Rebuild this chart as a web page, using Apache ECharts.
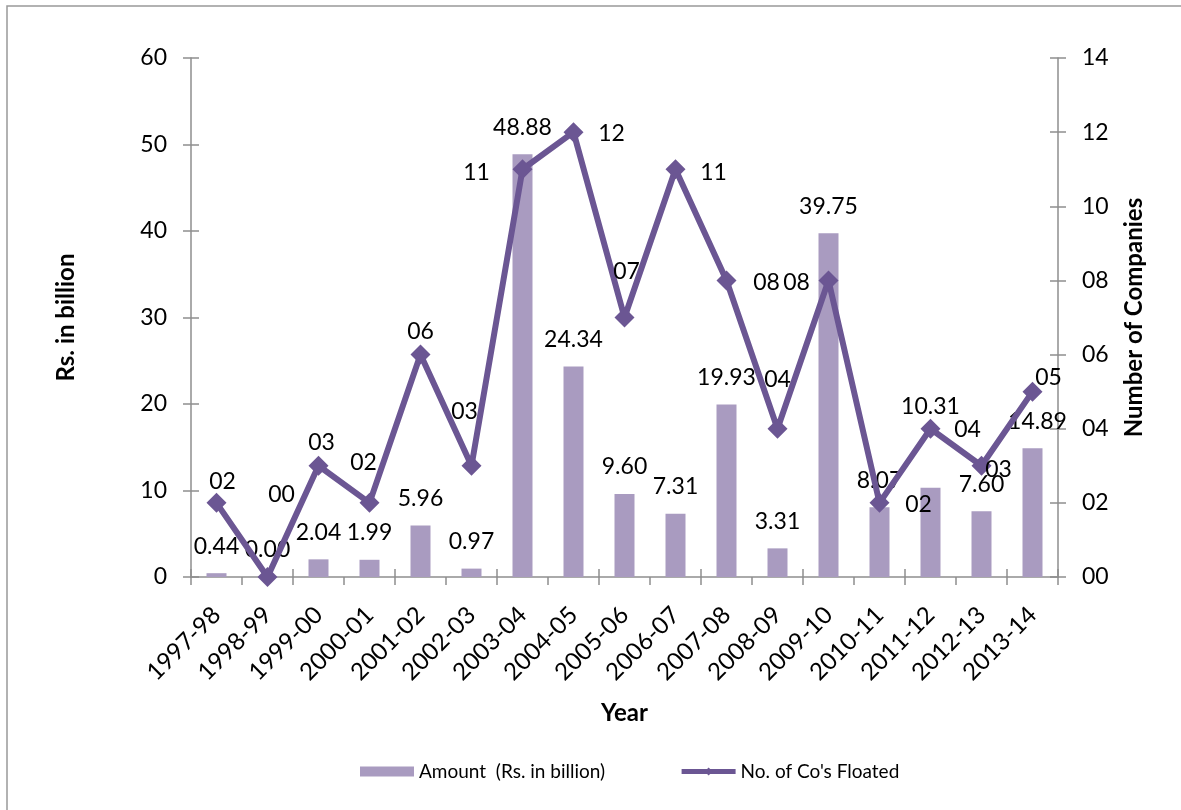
<!DOCTYPE html>
<html>
<head>
<meta charset="utf-8">
<script src="https://cdn.jsdelivr.net/npm/echarts@6/dist/echarts.min.js"></script>
<style>
  html, body { margin: 0; padding: 0; background: #fff; }
  #chart { width: 1181px; height: 810px; }
</style>
</head>
<body>
<div id="chart"></div>
<script>
// data
var years = ['1997-98', '1998-99', '1999-00', '2000-01', '2001-02', '2002-03', '2003-04', '2004-05', '2005-06',
    '2006-07', '2007-08', '2008-09', '2009-10', '2010-11', '2011-12', '2012-13', '2013-14'];
var amount = [0.44, 0.00, 2.04, 1.99, 5.96, 0.97, 48.88, 24.34, 9.60, 7.31, 19.93, 3.31, 39.75, 8.07, 10.31, 7.60, 14.89];
var companies = [2, 0, 3, 2, 6, 3, 11, 12, 7, 11, 8, 4, 8, 2, 4, 3, 5];

// label nudges (px) so labels sit where the original had them
var lineLabelOffset = [[6, -21], [14, -82], [3, -23], [-6, -40], [0, -23], [-7, -54], [-46, 3], [38, 1], [2, -46],
    [38, 3], [40, 2], [0, -49], [-32, 2], [39, 2], [37, 1], [17, 4], [16, -14]];
var barLabelOffset = { 14: [0, -54], 16: [5, 0] };

var FONT = 'Lato';
var axisGray = '#8e8e8e';
var barColor = '#a99bc0';
var lineColor = '#6b5693';

function pad2(v) {
    return (v < 10 ? '0' : '') + v;
}

var chart = echarts.init(document.getElementById('chart'));

var barData = amount.map(function (v, i) {
    var d = { value: v };
    if (barLabelOffset[i]) d.label = { offset: barLabelOffset[i] };
    return d;
});
var lineData = companies.map(function (v, i) {
    return { value: v, label: { offset: lineLabelOffset[i] } };
});

var tickStyle = { color: axisGray, width: 1.5 };

var option = {
    animation: false,
    textStyle: { fontFamily: FONT },
    graphic: [{
        type: 'rect',
        shape: { x: 7, y: 6, width: 1300, height: 1000 },
        style: { fill: 'none', stroke: '#999', lineWidth: 1.5 },
        silent: true
    }],
    grid: { left: 191, right: 123, top: 58, bottom: 233, containLabel: false },
    legend: {
        bottom: 24,
        left: 355,
        itemWidth: 54,
        itemHeight: 10,
        itemGap: 74,
        lineStyle: { width: 5 },
        textStyle: { fontFamily: FONT, fontSize: 19, color: '#000' },
        data: [
            { name: 'Amount  (Rs. in billion)', icon: 'rect' },
            { name: "No. of Co's Floated" }
        ]
    },
    xAxis: [{
        type: 'category',
        data: years,
        name: 'Year',
        nameLocation: 'middle',
        nameGap: 124,
        nameTextStyle: { fontFamily: FONT, fontSize: 24, fontWeight: 'bold', color: '#000' },
        axisLine: { lineStyle: tickStyle },
        axisTick: { show: true, length: 8, lineStyle: tickStyle },
        axisLabel: { rotate: 45, margin: 34, fontSize: 24, color: '#000', fontFamily: FONT, interval: 0 }
    }, {
        type: 'category',
        data: years,
        position: 'bottom',
        axisLine: { show: false },
        axisTick: { show: true, inside: true, length: 8, lineStyle: tickStyle },
        axisLabel: { show: false }
    }],
    yAxis: [{
        type: 'value',
        position: 'left',
        min: 0, max: 60, interval: 10,
        name: 'Rs. in billion',
        nameLocation: 'middle',
        nameGap: 113,
        nameTextStyle: { fontFamily: FONT, fontSize: 24, fontWeight: 'bold', color: '#000' },
        axisLine: { show: true, lineStyle: tickStyle },
        axisTick: { show: true, length: 8, lineStyle: tickStyle },
        axisLabel: { margin: 24, fontSize: 23, color: '#000', fontFamily: FONT },
        splitLine: { show: false }
    }, {
        type: 'value',
        position: 'right',
        min: 0, max: 14, interval: 2,
        name: 'Number of Companies',
        nameLocation: 'middle',
        nameGap: 64,
        nameTextStyle: { fontFamily: FONT, fontSize: 24, fontWeight: 'bold', color: '#000' },
        axisLine: { show: true, lineStyle: tickStyle },
        axisTick: { show: true, length: 8, lineStyle: tickStyle },
        axisLabel: { margin: 24, fontSize: 23, color: '#000', fontFamily: FONT, formatter: pad2 },
        splitLine: { show: false }
    }, {
        type: 'value',
        position: 'left',
        min: 0, max: 60, interval: 10,
        axisLine: { show: false },
        axisTick: { show: true, inside: true, length: 8, lineStyle: tickStyle },
        axisLabel: { show: false },
        splitLine: { show: false }
    }, {
        type: 'value',
        position: 'right',
        min: 0, max: 14, interval: 2,
        axisLine: { show: false },
        axisTick: { show: true, inside: true, length: 8, lineStyle: tickStyle },
        axisLabel: { show: false },
        splitLine: { show: false }
    }],
    series: [{
        name: 'Amount  (Rs. in billion)',
        type: 'bar',
        xAxisIndex: 0,
        yAxisIndex: 0,
        barWidth: 20,
        itemStyle: { color: barColor },
        label: {
            show: true,
            position: 'top',
            distance: 17,
            lineHeight: 20,
            fontSize: 23,
            color: '#000',
            fontFamily: FONT,
            formatter: function (p) { return p.value.toFixed(2); }
        },
        data: barData
    }, {
        name: "No. of Co's Floated",
        type: 'line',
        xAxisIndex: 0,
        yAxisIndex: 1,
        symbol: 'diamond',
        symbolSize: 20,
        z: 5,
        lineStyle: { color: lineColor, width: 6 },
        itemStyle: { color: lineColor },
        label: {
            show: true,
            position: 'inside',
            align: 'center',
            verticalAlign: 'middle',
            fontSize: 23,
            color: '#000',
            fontFamily: FONT,
            formatter: function (p) { return pad2(p.value); }
        },
        data: lineData
    }]
};

chart.setOption(option);
</script>
</body>
</html>
